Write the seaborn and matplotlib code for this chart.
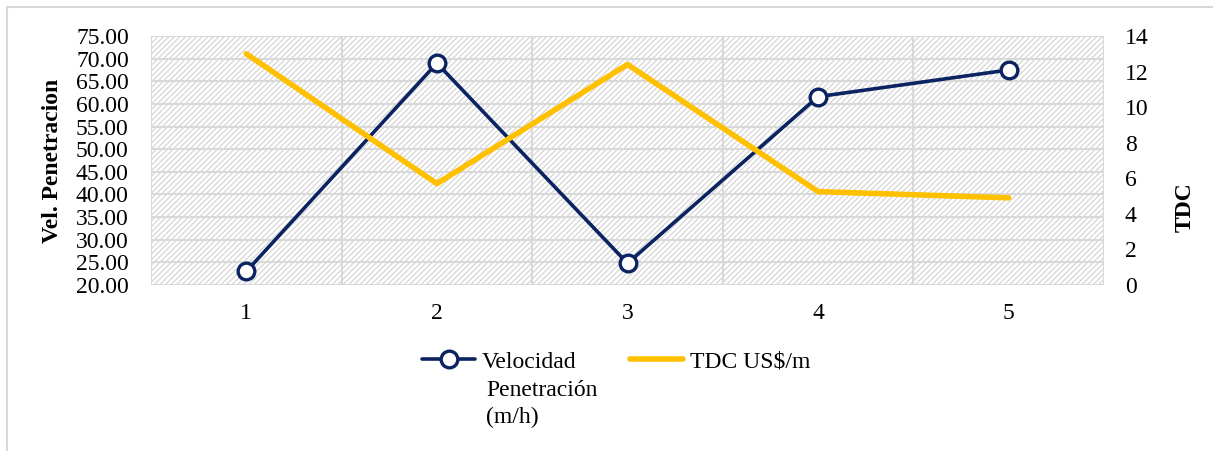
import matplotlib
matplotlib.use("Agg")
import matplotlib.pyplot as plt
import seaborn as sns
import pandas as pd
from matplotlib.patches import Rectangle
from matplotlib.lines import Line2D

categories = [1, 2, 3, 4, 5]
velocidad = [23.0, 69.0, 24.8, 61.6, 67.5]
tdc = [13.0, 5.7, 12.4, 5.25, 4.9]
left_ticks = [20, 25, 30, 35, 40, 45, 50, 55, 60, 65, 70, 75]
right_ticks = [0, 2, 4, 6, 8, 10, 12, 14]

NAVY = "#0B2361"
YELLOW = "#FFC000"
GRID = "#D9D9D9"
FS = 17

sns.set_theme(style="white")
plt.rcParams["font.family"] = ["Liberation Serif", "DejaVu Serif"]
plt.rcParams["text.color"] = "#000000"
plt.rcParams["hatch.color"] = "#D6D6D6"
plt.rcParams["hatch.linewidth"] = 0.9

df = pd.DataFrame({"cat": categories, "vel": velocidad, "tdc": tdc})

fig = plt.figure(figsize=(12.13, 4.51), dpi=100)
ax = fig.add_axes([151/1213, 1-285/451, (1104-151)/1213, (285-36)/451])

# outer border
fig.patches.append(Rectangle((7/1213, -0.1), 1.2, 1-7/451+0.1, transform=fig.transFigure,
                             fill=False, edgecolor="#D9D9D9", linewidth=1.5, zorder=0))

# hatched background
ax.add_patch(Rectangle((0, 0), 1, 1, transform=ax.transAxes, facecolor="white",
                       edgecolor="#D6D6D6", hatch="//////", linewidth=0, zorder=0))

ax.set_xlim(0.5, 5.5)
ax.set_ylim(20, 75)
ax.set_yticks(left_ticks)
ax.set_yticklabels([f"{v:.2f}" for v in left_ticks])
for y in left_ticks:
    ax.axhline(y, color=GRID, linewidth=1.5, zorder=1)
for x in [0.5, 1.5, 2.5, 3.5, 4.5, 5.5]:
    ax.axvline(x, color=GRID, linewidth=1.5, zorder=1)
ax.set_xticks(categories)
ax.set_xticklabels([str(c) for c in categories])
for s in ax.spines.values():
    s.set_visible(False)
ax.tick_params(axis="both", length=0, labelsize=FS, colors="#000000")
ax.tick_params(axis="x", pad=13)
ax.tick_params(axis="y", pad=16)

sns.lineplot(data=df, x="cat", y="vel", ax=ax, color=NAVY, linewidth=2.6,
             marker="o", markersize=12, markerfacecolor="white",
             markeredgecolor=NAVY, markeredgewidth=2.4, zorder=5, legend=False)
ax.set_xlabel("")
ax.set_ylabel("Vel. Penetracion", fontsize=FS, fontweight="bold", color="#000000")
ax.yaxis.set_label_coords(-0.0923, 0.5)

ax2 = ax.twinx()
sns.lineplot(data=df, x="cat", y="tdc", ax=ax2, color=YELLOW, linewidth=4,
             zorder=4, legend=False)
ax2.set_ylim(0, 14)
ax2.set_yticks(right_ticks)
ax2.set_yticklabels([str(v) for v in right_ticks])
ax2.tick_params(axis="y", length=0, labelsize=FS, pad=15, colors="#000000")
for s in ax2.spines.values():
    s.set_visible(False)
ax2.set_ylabel("TDC", fontsize=FS, fontweight="bold", rotation=90, color="#000000")
ax2.yaxis.set_label_coords(1.0745, 0.313)
ax2.set_xlabel("")

handles = [
    Line2D([], [], color=NAVY, linewidth=2.6, marker="o", markersize=12,
           markerfacecolor="white", markeredgecolor=NAVY, markeredgewidth=2.4),
    Line2D([], [], color=YELLOW, linewidth=4),
]
labels = ["Velocidad", "TDC US$/m"]
leg = fig.legend(handles, labels, loc="center left",
                 bbox_to_anchor=(422/1213, 1-362/451),
                 ncol=2, frameon=False, fontsize=FS, handlelength=2.25,
                 handletextpad=0.3, columnspacing=2.25, borderaxespad=0, borderpad=0,
                 labelcolor="#000000")

fig.canvas.draw()
r = fig.canvas.get_renderer()
bb = leg.get_texts()[0].get_window_extent(r)
x0 = bb.x0 / fig.bbox.width + 4/1213
y_line = bb.y0 / fig.bbox.height
fig.text(x0, y_line - 7/451, "Penetración\n(m/h)", fontsize=FS, va="top", ha="left",
         linespacing=1.4, color="#000000")

fig.savefig("out.png", dpi=100)
